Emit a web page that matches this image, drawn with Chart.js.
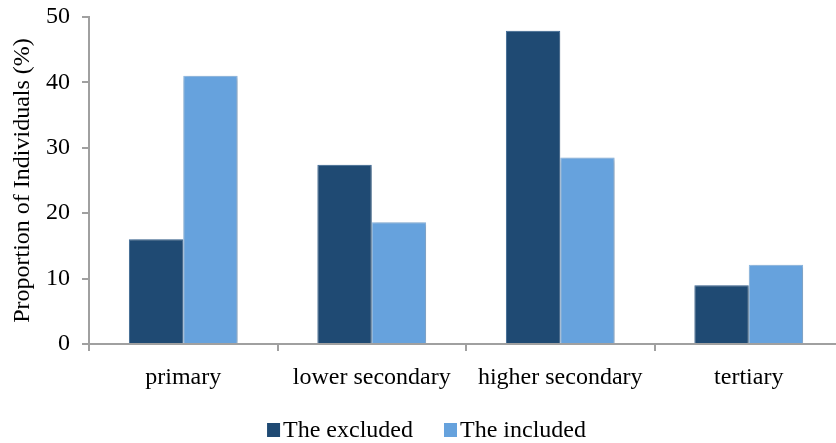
<!DOCTYPE html>
<html>
<head>
<meta charset="utf-8">
<script src="https://cdn.jsdelivr.net/npm/chart.js@4/dist/chart.umd.min.js"></script>
<style>
  html, body { margin: 0; padding: 0; background: #ffffff; overflow: hidden; }
  #wrap { width: 843px; height: 443px; }
</style>
</head>
<body>
<div id="wrap"><canvas id="chart" width="843" height="443"></canvas></div>
<script>
// Education level of each group
const categories = ['primary', 'lower secondary', 'higher secondary', 'tertiary'];
const excluded = [16, 27.4, 47.9, 9];
const included = [41, 18.6, 28.5, 12.1];
const yTicks = [0, 10, 20, 30, 40, 50];

const serif = '"Liberation Serif", "Times New Roman", serif';
const axisGray = '#a0a0a0';

// soft drop shadow behind the bars
const barShadow = {
  id: 'barShadow',
  beforeDatasetsDraw(chart) {
    const ctx = chart.ctx;
    ctx.save();
    ctx.shadowColor = 'rgba(0,0,0,0.28)';
    ctx.shadowBlur = 4;
    ctx.shadowOffsetX = 1;
    ctx.shadowOffsetY = 1;
  },
  afterDatasetsDraw(chart) {
    chart.ctx.restore();
  }
};

// compact legend: small square right next to its label, centred under the chart
const squareLegend = {
  id: 'squareLegend',
  afterDraw(chart) {
    const ctx = chart.ctx;
    const box = { w: 13, h: 14 };
    const gapText = 3, gapItem = 31;
    const cy = chart.height - 13;
    ctx.save();
    ctx.font = '24px ' + serif;
    ctx.textBaseline = 'middle';
    ctx.textAlign = 'left';
    const items = chart.data.datasets.map(ds => ({
      text: ds.label,
      color: ds.backgroundColor,
      w: ctx.measureText(ds.label).width
    }));
    const total = items.reduce((s, it) => s + box.w + gapText + it.w, 0) + gapItem * (items.length - 1);
    let x = chart.width / 2 - total / 2 + 5;
    items.forEach(it => {
      ctx.fillStyle = it.color;
      ctx.fillRect(x, cy - box.h / 2, box.w, box.h);
      x += box.w + gapText;
      ctx.fillStyle = '#000000';
      ctx.fillText(it.text, x, cy + 1);
      x += it.w + gapItem;
    });
    ctx.restore();
  }
};

new Chart(document.getElementById('chart'), {
  type: 'bar',
  data: {
    labels: categories,
    datasets: [
      {
        label: 'The excluded',
        data: excluded,
        backgroundColor: '#1f4a73',
        borderColor: '#3e6d9c',
        borderWidth: 1,
        barPercentage: 1,
        categoryPercentage: 0.577
      },
      {
        label: 'The included',
        data: included,
        backgroundColor: '#66a2dd',
        borderColor: '#8fbbe6',
        borderWidth: 1,
        barPercentage: 1,
        categoryPercentage: 0.577
      }
    ]
  },
  plugins: [barShadow, squareLegend],
  options: {
    responsive: false,
    animation: false,
    devicePixelRatio: 1,
    layout: { padding: { top: 17, left: 0, right: 0, bottom: 24 } },
    plugins: {
      tooltip: { enabled: false },
      legend: { display: false }
    },
    scales: {
      x: {
        grid: {
          display: true,
          drawOnChartArea: false,
          drawTicks: true,
          tickLength: 7,
          color: axisGray,
          lineWidth: 2
        },
        border: { display: true, color: axisGray, width: 2 },
        ticks: {
          color: '#000000',
          font: { family: serif, size: 24 },
          padding: 12,
          maxRotation: 0,
          autoSkip: false
        },
        afterFit(scale) {
          scale.height = 75;
          scale.paddingLeft = 0;
          scale.paddingRight = 0;
        }
      },
      y: {
        min: 0,
        max: 50,
        afterBuildTicks(scale) { scale.ticks = yTicks.map(v => ({ value: v })); },
        grid: {
          display: true,
          drawOnChartArea: false,
          drawTicks: true,
          tickLength: 7,
          color: axisGray,
          lineWidth: 2
        },
        border: { display: true, color: axisGray, width: 2 },
        ticks: {
          color: '#000000',
          font: { family: serif, size: 24 },
          padding: 12
        },
        title: {
          display: true,
          text: 'Proportion of Individuals (%)',
          color: '#000000',
          font: { family: serif, size: 24 },
          padding: { top: 8, bottom: 0 }
        },
        afterFit(scale) {
          scale.width = 89;
          scale.paddingTop = 0;
          scale.paddingBottom = 0;
        }
      }
    }
  }
});
</script>
</body>
</html>
